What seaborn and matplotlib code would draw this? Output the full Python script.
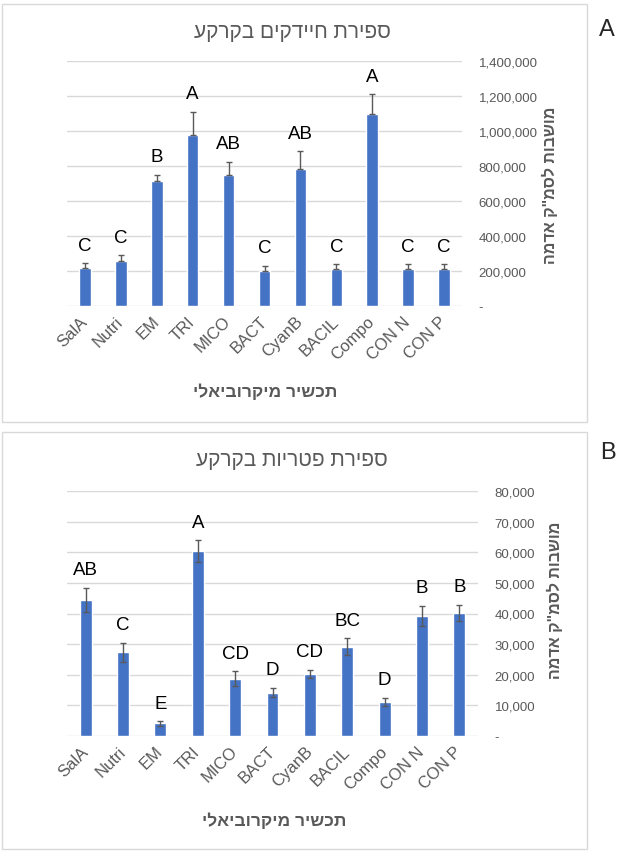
import pandas as pd
import seaborn as sns
import matplotlib.pyplot as plt
from matplotlib.patches import Rectangle
from matplotlib.ticker import FuncFormatter, MultipleLocator

# ---------- data ----------
treatments = ["SalA", "Nutri", "EM", "TRI", "MICO", "BACT", "CyanB", "BACIL", "Compo", "CON N", "CON P"]

# A: bacteria count (colonies per cc soil)
bact_mean = [215000, 255000, 712000, 979000, 749000, 200000, 781000, 211000, 1097000, 211000, 211000]
bact_err = [29000, 34000, 37000, 130000, 76000, 29000, 103000, 27000, 113000, 29000, 29000]
bact_letters = ["C", "C", "B", "A", "AB", "C", "AB", "C", "A", "C", "C"]

# B: fungi count
fungi_mean = [44500, 27300, 4100, 60300, 18700, 14200, 20300, 29100, 11200, 39200, 40200]
fungi_err = [3900, 3100, 700, 3600, 2400, 1500, 1300, 2800, 1300, 3400, 2600]
fungi_letters = ["AB", "C", "E", "A", "CD", "D", "CD", "BC", "D", "B", "B"]

title_a = "ספירת חיידקים בקרקע"
title_b = "ספירת פטריות בקרקע"
y_title = "מושבות לסמ\"ק אדמה"
x_title = "תכשיר מיקרוביאלי"

BLUE = "#4472C4"
GRAY = "#595959"
GRID = "#D9D9D9"

sns.set_style("white")
plt.rcParams["font.family"] = ["Liberation Sans", "DejaVu Sans"]

W, H = 634, 854


def rtl(s):
    # matplotlib has no bidi support, so lay Hebrew out in visual order
    return s[::-1]


def fx(px):
    return px / W


def fy(py):
    return 1 - py / H


def draw_panel(ax, means, errs, letters, ymax, step, both_sides):
    df = pd.DataFrame({"treatment": treatments, "count": means})
    sns.barplot(data=df, x="treatment", y="count", color=BLUE, saturation=1,
                width=0.32, errorbar=None, ax=ax, zorder=2)
    lower = errs if both_sides else [0] * len(errs)
    ax.errorbar(range(len(treatments)), means, yerr=[lower, errs], fmt="none",
                ecolor=GRAY, elinewidth=1, capsize=2.5, capthick=1, zorder=3)
    for i, (m, e, lab) in enumerate(zip(means, errs, letters)):
        ax.annotate(lab, (i, m + e), xytext=(0, 18), textcoords="offset pixels",
                    ha="center", va="center", fontsize=13.5, color="black")

    ax.set_xlim(-0.5, len(treatments) - 0.5)
    ax.set_ylim(0, ymax)
    ax.yaxis.set_major_locator(MultipleLocator(step))
    ax.yaxis.set_major_formatter(FuncFormatter(lambda v, _: "-" if v == 0 else f"{v:,.0f}"))
    ax.yaxis.tick_right()
    ax.grid(axis="y", color=GRID, lw=1)
    ax.set_axisbelow(True)
    for sp in ax.spines.values():
        sp.set_visible(False)
    ax.tick_params(axis="y", length=0, pad=12, labelsize=9.5, labelcolor=GRAY)
    ax.tick_params(axis="x", length=0, pad=9, labelsize=12, labelcolor=GRAY)
    ax.set_xticks(range(len(treatments)))
    ax.set_xticklabels(treatments, rotation=45, ha="right", va="center",
                       rotation_mode="anchor")
    ax.set_xlabel("")
    ax.set_ylabel("")


fig = plt.figure(figsize=(W / 100, H / 100), dpi=100)

# panel frames
for top, bottom in [(5, 423), (433, 850)]:
    fig.add_artist(Rectangle((fx(2), fy(bottom)), fx(585), (bottom - top) / H,
                             transform=fig.transFigure, fill=False, ec=GRID, lw=1))

ax_a = fig.add_axes([fx(67), fy(307), fx(395), (307 - 62) / H])
draw_panel(ax_a, bact_mean, bact_err, bact_letters, 1400000, 200000, False)

ax_b = fig.add_axes([fx(67), fy(737), fx(411), (737 - 492) / H])
draw_panel(ax_b, fungi_mean, fungi_err, fungi_letters, 80000, 10000, True)

# titles, axis titles, panel letters
fig.text(fx(292), fy(33), rtl(title_a), fontsize=15, color=GRAY, ha="center", va="center")
fig.text(fx(292), fy(461), rtl(title_b), fontsize=15, color=GRAY, ha="center", va="center")

fig.text(fx(550), fy(185), rtl(y_title), rotation=90, fontsize=11.5, fontweight="bold",
         color=GRAY, ha="center", va="center")
fig.text(fx(555), fy(600), rtl(y_title), rotation=90, fontsize=11.5, fontweight="bold",
         color=GRAY, ha="center", va="center")

fig.text(fx(265), fy(392), rtl(x_title), fontsize=12.5, fontweight="bold", color=GRAY,
         ha="center", va="center")
fig.text(fx(274), fy(821), rtl(x_title), fontsize=12.5, fontweight="bold", color=GRAY,
         ha="center", va="center")

fig.text(fx(607), fy(30), "A", fontsize=17, ha="center", va="center")
fig.text(fx(608), fy(453), "B", fontsize=17, ha="center", va="center")

fig.savefig("out.png", dpi=100)
